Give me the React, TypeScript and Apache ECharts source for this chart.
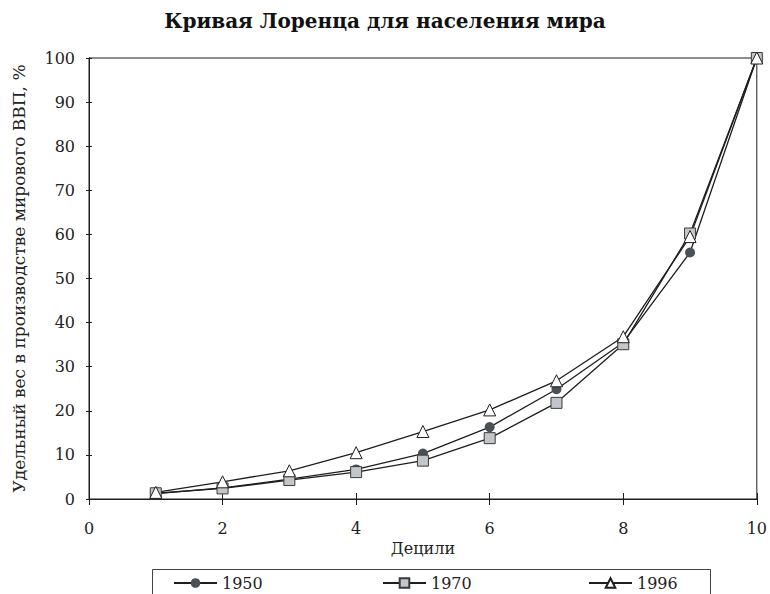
import React, { useEffect, useRef } from "react";
import * as echarts from "echarts";

const deciles = [1, 2, 3, 4, 5, 6, 7, 8, 9, 10];
const s1950 = [1.2, 2.5, 4.5, 6.7, 10.3, 16.3, 24.9, 35.5, 55.9, 100];
const s1970 = [1.3, 2.4, 4.3, 6.1, 8.7, 13.8, 21.8, 35.1, 60.2, 100];
const s1996 = [1.5, 3.9, 6.4, 10.5, 15.3, 20.2, 26.8, 36.8, 59.5, 100];
const seriesNames = ["1950", "1970", "1996"];
const titleText = "Кривая Лоренца для населения мира";
const yName = "Удельный вес в производстве мирового ВВП, %";
const xName = "Децили";

const FONT = "DejaVu Serif";

export default function App() {
  const ref = useRef<HTMLDivElement>(null);
  useEffect(() => {
    const chart = echarts.init(ref.current!, null, { renderer: "svg" });
    const pair = (arr: number[]) => deciles.map((d, i) => [d, arr[i]]);
    const lineStyle = { color: "#1e1e1e", width: 1.3 };
    const axisCommon = {
      axisLine: { show: true, lineStyle: { color: "#1e1e1e", width: 1 } },
      splitLine: { show: false },
    };
    const legendCommon = {
      top: 570,
      itemWidth: 43,
      itemHeight: 12,
      itemGap: 4,
      textStyle: { fontFamily: FONT, fontSize: 16, color: "#222" },
    };
    chart.setOption({
      animation: false,
      backgroundColor: "#fff",
      title: {
        text: titleText,
        left: "center",
        top: 6,
        textStyle: { fontFamily: FONT, fontSize: 20, fontWeight: "bold", color: "#111" },
      },
      grid: {
        left: 89,
        right: 11,
        top: 58,
        bottom: 95,
        show: true,
        borderColor: "#1e1e1e",
        borderWidth: 1,
      },
      legend: [
        { ...legendCommon, left: 168, data: [seriesNames[0]] },
        { ...legendCommon, left: 377, data: [seriesNames[1]] },
        { ...legendCommon, left: 583, data: [seriesNames[2]] },
      ],
      xAxis: [
        {
          type: "value",
          min: 0,
          max: 10,
          interval: 2,
          ...axisCommon,
          axisTick: { show: true, length: 6, lineStyle: { color: "#1e1e1e" } },
          axisLabel: { margin: 21, fontFamily: FONT, fontSize: 16, color: "#222" },
          name: xName,
          nameLocation: "middle",
          nameGap: 29,
          nameTextStyle: { fontFamily: FONT, fontSize: 16, color: "#222" },
        },
        {
          type: "value",
          min: 0,
          max: 10,
          interval: 2,
          position: "bottom",
          ...axisCommon,
          axisTick: { show: true, inside: true, length: 6, lineStyle: { color: "#1e1e1e" } },
          axisLabel: { show: false },
        },
      ],
      yAxis: [
        {
          type: "value",
          min: 0,
          max: 100,
          interval: 10,
          ...axisCommon,
          axisTick: { show: true, length: 3, lineStyle: { color: "#1e1e1e" } },
          axisLabel: { margin: 14, fontFamily: FONT, fontSize: 16, color: "#222" },
          name: yName,
          nameLocation: "middle",
          nameGap: 62,
          nameTextStyle: { fontFamily: FONT, fontSize: 17, color: "#222" },
        },
        {
          type: "value",
          min: 0,
          max: 100,
          interval: 10,
          position: "left",
          ...axisCommon,
          axisTick: { show: true, inside: true, length: 3, lineStyle: { color: "#1e1e1e" } },
          axisLabel: { show: false },
        },
      ],
      graphic: [
        {
          type: "rect",
          shape: { x: 152.5, y: 569.5, width: 558, height: 60 },
          style: { fill: "none", stroke: "#444", lineWidth: 1 },
          silent: true,
        },
      ],
      series: [
        {
          name: seriesNames[0],
          type: "line",
          data: pair(s1950),
          symbol: "circle",
          symbolSize: 10,
          lineStyle,
          itemStyle: { color: "#4b5055", borderColor: "#4b5055", borderWidth: 0 },
        },
        {
          name: seriesNames[1],
          type: "line",
          data: pair(s1970),
          symbol: "rect",
          symbolSize: 11,
          lineStyle,
          itemStyle: { color: "#c2c6ca", borderColor: "#3a3a3a", borderWidth: 1 },
        },
        {
          name: seriesNames[2],
          type: "line",
          data: pair(s1996),
          symbol: "triangle",
          symbolSize: 12,
          lineStyle,
          itemStyle: { color: "#ffffff", borderColor: "#1e1e1e", borderWidth: 1 },
        },
      ],
    });
    return () => chart.dispose();
  }, []);
  return (
    <div
      ref={ref}
      style={{ position: "fixed", left: 0, top: 0, width: 770, height: 594 }}
    />
  );
}
